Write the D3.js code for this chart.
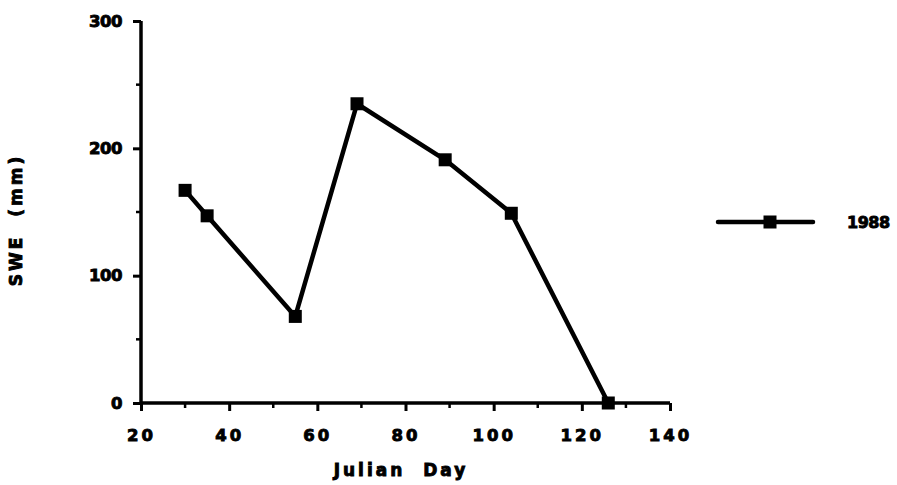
<!DOCTYPE html>
<html>
<head>
<meta charset="utf-8">
<script src="https://cdn.jsdelivr.net/npm/d3@7"></script>
<style>
  body { margin: 0; background: #fff; }
  text { font-family: "DejaVu Sans", sans-serif; font-weight: bold; fill: #000; }
</style>
</head>
<body>
<svg id="chart" width="897" height="485"></svg>
<script>
// values
const days = [30, 35, 55, 69, 89, 104, 126];
const swe = [167, 147, 68, 235, 191, 149, 0];
const xTicks = [20, 40, 60, 80, 100, 120, 140];
const yTicks = [0, 100, 200, 300];
const seriesName = "1988";

const svg = d3.select('#chart');

const x = d3.scaleLinear().domain([20, 140]).range([141, 670]);
const y = d3.scaleLinear().domain([0, 300]).range([403, 21]);

// axes
const xAxis = svg.append('g').attr('transform', `translate(0,${y(0)})`)
    .call(d3.axisBottom(x).tickValues(xTicks).tickSize(8).tickPadding(18).tickFormat(d3.format('d')));
const yAxis = svg.append('g').attr('transform', `translate(${x(20)},0)`)
    .call(d3.axisLeft(y).tickValues(yTicks).tickSize(8).tickPadding(11));

// minor ticks
svg.append('g').selectAll('line')
    .data(d3.range(30, 140, 20))
    .join('line')
    .attr('x1', d => x(d)).attr('x2', d => x(d))
    .attr('y1', y(0)).attr('y2', y(0) + 5)
    .attr('stroke', '#000').attr('stroke-width', 2.5);
svg.append('g').selectAll('line')
    .data([50, 150, 250])
    .join('line')
    .attr('x1', x(20) - 5).attr('x2', x(20))
    .attr('y1', d => y(d)).attr('y2', d => y(d))
    .attr('stroke', '#000').attr('stroke-width', 2.5);

[xAxis, yAxis].forEach(g => {
    g.select('.domain').attr('stroke', '#000').attr('stroke-width', 3.5)
        .attr('d', g === xAxis ? `M${x(20)},0H${x(140)}` : `M0,${y(0)}V${y(300)}`);
    g.selectAll('.tick line').attr('stroke', '#000').attr('stroke-width', 3);
    g.selectAll('.tick text')
        .style('font-size', '16.5px')
        .attr('stroke', '#000').attr('stroke-width', 0.9)
        .attr('fill', '#000');
});
xAxis.selectAll('.tick text').attr('letter-spacing', '3px');
yAxis.selectAll('.tick text').attr('letter-spacing', '-0.5px');

// line + markers
const line = d3.line().x((d, i) => x(days[i])).y(d => y(d));
svg.append('path')
    .datum(swe)
    .attr('d', line)
    .attr('fill', 'none')
    .attr('stroke', '#000')
    .attr('stroke-width', 4.5)
    .attr('stroke-linejoin', 'round');

svg.append('g').selectAll('rect')
    .data(swe)
    .join('rect')
    .attr('x', (d, i) => x(days[i]) - 6.5)
    .attr('y', d => y(d) - 6.5)
    .attr('width', 13).attr('height', 13)
    .attr('fill', '#000');

// axis titles
svg.append('text')
    .attr('x', 401).attr('y', 476)
    .attr('text-anchor', 'middle')
    .style('font-size', '17px')
    .attr('letter-spacing', '3px')
    .attr('stroke', '#000').attr('stroke-width', 0.9)
    .attr('xml:space', 'preserve')
    .text('Julian  Day');

svg.append('text')
    .attr('transform', 'translate(22,220) rotate(-90)')
    .attr('text-anchor', 'middle')
    .style('font-size', '17px')
    .attr('letter-spacing', '3px')
    .attr('stroke', '#000').attr('stroke-width', 0.9)
    .attr('xml:space', 'preserve')
    .text('SWE  (mm)');

// legend
const legend = svg.append('g');
legend.append('line')
    .attr('x1', 718).attr('x2', 813).attr('y1', 222).attr('y2', 222)
    .attr('stroke', '#000').attr('stroke-width', 4.5).attr('stroke-linecap', 'round');
legend.append('rect')
    .attr('x', 763.5).attr('y', 215.5).attr('width', 13).attr('height', 13)
    .attr('fill', '#000');
legend.append('text')
    .attr('x', 847).attr('y', 228)
    .style('font-size', '16px')
    .attr('stroke', '#000').attr('stroke-width', 0.9)
    .attr('letter-spacing', '-0.5px')
    .text(seriesName);
</script>
</body>
</html>
